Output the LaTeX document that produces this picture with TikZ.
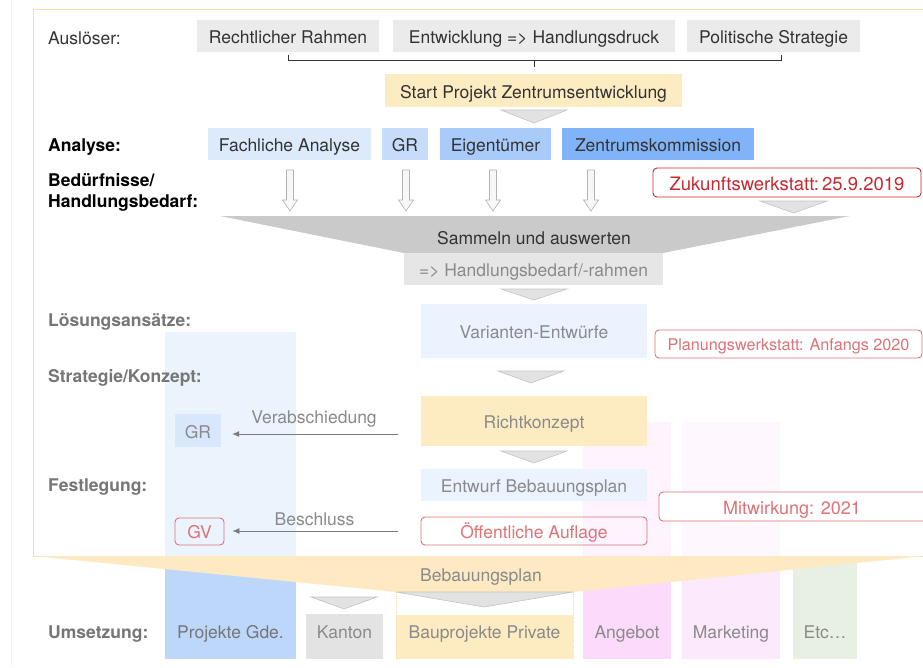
\documentclass[tikz,border=0pt]{standalone}
\usepackage{fontspec}
\setmainfont{TeX Gyre Heros}
\usetikzlibrary{arrows.meta}
\definecolor{txtdark}{HTML}{333333}
\definecolor{txtgray}{HTML}{8A8A8A}
\definecolor{lblgray}{HTML}{767676}
\definecolor{boxgray}{HTML}{EBEBEB}
\definecolor{boxgray2}{HTML}{E6E6E6}
\definecolor{boxorange}{HTML}{FDEBC2}
\definecolor{blueA}{HTML}{DCEAFB}
\definecolor{blueB}{HTML}{C6DCFA}
\definecolor{blueC}{HTML}{A9CBF9}
\definecolor{blueD}{HTML}{80B3F7}
\definecolor{bluePale}{HTML}{EAF3FE}
\definecolor{blueGR}{HTML}{D8E7FB}
\definecolor{colBlue}{HTML}{BDD7FB}
\definecolor{colPink}{HTML}{FCDAFC}
\definecolor{colPinkB}{HTML}{FCE9FC}
\definecolor{colGreen}{HTML}{E7F0E2}
\definecolor{kanton}{HTML}{E3E3E3}
\definecolor{framec}{HTML}{FBDDA6}
\definecolor{funnelO}{HTML}{FDEAC3}
\definecolor{funnelG}{HTML}{CACACA}
\definecolor{redS}{HTML}{C62A2F}
\definecolor{redP}{HTML}{DE7276}
\definecolor{trifill}{HTML}{E2E2E2}
\definecolor{triedge}{HTML}{C4C4C4}
\definecolor{arrgray}{HTML}{7A7A7A}
\tikzset{
  every node/.style={font=\fontsize{17.5}{21}\selectfont, inner sep=0pt},
  box/.style={text height=15.5pt, text depth=0pt, align=center},
  gbox/.style={box, fill=boxgray, text=txtdark},
  redbox/.style={box, text height=15pt, draw=redP, line width=0.9pt, rounded corners=4pt, text=redP},
  lbl/.style={anchor=base west, text=txtdark},
  blbl/.style={anchor=base west, font=\fontsize{17.5}{21}\selectfont\bfseries, text=black},
  glbl/.style={anchor=base west, font=\fontsize{17.5}{21}\selectfont\bfseries, text=lblgray},
  collbl/.style={anchor=base, text=txtgray},
  tri/.style={fill=trifill, draw=triedge, line width=0.6pt},
  hollow/.style={fill=gray!6, draw=gray!60, line width=0.6pt},
  arr/.style={draw=arrgray, line width=0.8pt, -{Latex[length=7pt,width=6pt]}},
}
\begin{document}
\begin{tikzpicture}[x=1pt,y=-1pt]
\useasboundingbox (0,0) rectangle (923,667);
\clip (0,0) rectangle (923,667);
\fill[white] (0,0) rectangle (923,667);
\draw[color={rgb,255:red,236;green,246;blue,246}, line width=0.8pt] (11,0) -- (11,667);

% columns
\fill[colBlue] (165,332) rectangle (296,659);
\fill[colPink] (583,422) rectangle (671,659);
\fill[colPinkB] (682,422) rectangle (780,659);
\fill[colGreen] (793,557) rectangle (857,659);

% frame with translucent white
\fill[white, fill opacity=0.7] (33,9) rectangle (935,556);
\draw[framec, line width=0.9pt] (33,9) rectangle (935,556);

% lower funnel
\fill[funnelO] (33,556) -- (935,556) -- (935,555) -- (573,592) -- (396,592) -- cycle;
\node[anchor=base, text=txtgray] (bplan) at (481,581) {Bebauungsplan};

% bottom row
\node[box, fill=kanton, text=txtgray, minimum width=77pt, text height=24pt, text depth=21pt] (kanton) at (344.5,636.5) {Kanton};
\fill[boxorange] (396,615) rectangle (573,659);
\draw[framec, line width=0.9pt, densely dotted] (396,592) -- (396,659);
\draw[framec, line width=0.9pt, densely dotted] (573,592) -- (573,659);
\node[collbl] (bpriv) at (484.5,638) {Bauprojekte Private};
\draw[tri] (396,592) -- (573,592) -- (484,607) -- cycle;
\draw[tri] (311,597) -- (377,597) -- (344,609) -- cycle;
\node[collbl, text=lblgray] (pgde) at (230.5,638) {Projekte Gde.};
\node[collbl] (angebot) at (627,638) {Angebot};
\node[collbl] (marketing) at (731,638) {Marketing};
\node[collbl] (etc) at (825,638) {Etc…};
\node[glbl] (lumsetz) at (48,638) {Umsetzung:};

% top row
\node[gbox, minimum width=182pt, minimum height=32pt] (rr) at (288,36) {Rechtlicher Rahmen};
\node[gbox, minimum width=282pt, minimum height=32pt] (ent) at (534,36) {Entwicklung => Handlungsdruck};
\node[gbox, minimum width=173pt, minimum height=32pt] (pol) at (773.5,36) {Politische Strategie};
\draw[txtdark, line width=0.6pt] (rr.south |- 0,55) -- (rr.south |- 0,60) -- (781,60) -- (781,55);
\draw[txtdark, line width=0.6pt] (ent.south |- 0,60) -- (ent.south |- 0,67);
\node[box, fill=boxorange, text=txtdark, minimum width=297pt, minimum height=33pt] (start) at (533.5,90.5) {Start Projekt Zentrumsentwicklung};
\draw[tri] (501,110) -- (567,110) -- (534,123) -- cycle;

\node[lbl] (lausl) at (48,44) {Auslöser:};
\node[blbl] (lanal) at (48,151) {Analyse:};
\node[blbl] (lbed1) at (48,186) {Bedürfnisse/};
\node[blbl] (lbed2) at (48,207) {Handlungsbedarf:};

% analysis boxes
\node[box, fill=blueA, text=txtdark, minimum width=163pt, minimum height=32pt] (fa) at (289.5,144) {Fachliche Analyse};
\node[box, fill=blueB, text=txtdark, minimum width=46pt, minimum height=32pt] (gr) at (405,144) {GR};
\node[box, fill=blueC, text=txtdark, minimum width=111pt, minimum height=32pt] (eig) at (495.5,144) {Eigentümer};
\node[box, fill=blueD, text=txtdark, minimum width=192pt, minimum height=32pt] (zk) at (658,144) {Zentrumskommission};

% hollow arrows
\foreach \xx in {290,406,493,591}{
  \draw[hollow] (\xx-3.5,170) -- (\xx+3.5,170) -- (\xx+3.5,200) -- (\xx+7.5,200) -- (\xx,211) -- (\xx-7.5,200) -- (\xx-3.5,200) -- cycle;
}
\node[box, text height=15pt, draw=redS, line width=0.9pt, rounded corners=4pt, text=redS, fill=white, font=\fontsize{18.5}{21}\selectfont, minimum width=268pt, minimum height=29pt] (zuk) at (787,182.5) {Zukunftswerkstatt:\,25.9.2019};
\draw[tri] (760,201) -- (827,201) -- (793.5,213) -- cycle;

% gray funnel
\fill[funnelG] (220,216) -- (850,216) -- (663,253) -- (404,253) -- cycle;
\node[anchor=base, text=txtdark] (samm) at (534,244.5) {Sammeln und auswerten};
\node[box, fill=boxgray2, text=txtgray, minimum width=259pt, minimum height=32pt] (hb) at (533.5,268.5) {=> Handlungsbedarf/-rahmen};
\draw[tri] (501,289) -- (567,289) -- (534,300) -- cycle;

% lower part
\node[glbl] (lloes) at (48,326) {Lösungsansätze:};
\node[glbl] (lstrat) at (48,382) {Strategie/Konzept:};
\node[glbl] (lfest) at (48,491) {Festlegung:};

\node[box, fill=bluePale, text=txtgray, minimum width=226pt, minimum height=54pt] (var) at (534,331) {Varianten-Entwürfe};
\node[redbox, text height=13.5pt, fill=white, font=\fontsize{16.2}{19}\selectfont, minimum width=267pt, minimum height=28pt] (plan) at (788.5,344) {Planungswerkstatt: Anfangs 2020};
\draw[tri] (498,371) -- (564,371) -- (531,383) -- cycle;

\node[box, fill=boxorange, text=txtgray, minimum width=226pt, minimum height=50pt] (rk) at (534,421) {Richtkonzept};
\draw[tri] (501,451) -- (567,451) -- (534,463) -- cycle;
\node[box, fill=bluePale, text=txtgray, minimum width=226pt, minimum height=32pt] (ebp) at (534,485) {Entwurf Bebauungsplan};
\node[redbox, minimum width=226pt, minimum height=28pt] (oa) at (534,531) {Öffentliche Auflage};
\node[redbox, fill=white, font=\fontsize{18}{21}\selectfont, minimum width=272pt, minimum height=29pt] (mit) at (795,506.5) {\hspace*{-6pt}Mitwirkung: 2021};

\node[box, fill=blueGR, text=txtgray, minimum width=46pt, minimum height=33pt] (gr2) at (198,430.5) {GR};
\node[redbox, text height=13.5pt, minimum width=49pt, minimum height=27pt] (gv) at (199.5,531.5) {GV};

\coordinate (v1) at (398,434);
\coordinate (b1) at (398,531);
\draw[arr, shorten >=11pt] (v1) -- (gr2.east |- v1);
\draw[arr, shorten >=8pt] (b1) -- (gv.east |- b1);
\node[anchor=base, text=txtgray] (verab) at (314,423) {Verabschiedung};
\node[anchor=base, text=txtgray] (beschl) at (314.5,525) {Beschluss};
\end{tikzpicture}
\end{document}
